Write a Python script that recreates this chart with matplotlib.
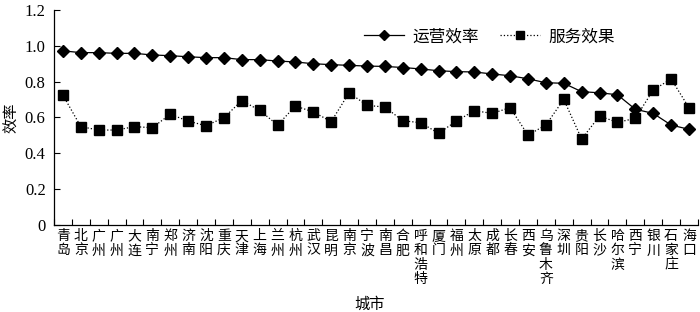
import matplotlib
matplotlib.use("Agg")
import matplotlib.pyplot as plt
import numpy as np

cities = ["青岛", "北京", "广州", "广州", "大连", "南宁", "郑州", "济南", "沈阳", "重庆",
          "天津", "上海", "兰州", "杭州", "武汉", "昆明", "南京", "宁波", "南昌", "合肥",
          "呼和浩特", "厦门", "福州", "太原", "成都", "长春", "西安", "乌鲁木齐", "深圳", "贵阳",
          "长沙", "哈尔滨", "西宁", "银川", "石家庄", "海口"]
operating = [0.972, 0.962, 0.962, 0.958, 0.958, 0.949, 0.945, 0.939, 0.934, 0.934,
             0.923, 0.923, 0.915, 0.910, 0.900, 0.895, 0.891, 0.887, 0.885, 0.879,
             0.871, 0.861, 0.856, 0.854, 0.843, 0.833, 0.816, 0.794, 0.791, 0.744,
             0.738, 0.727, 0.646, 0.623, 0.558, 0.534]
service = [0.725, 0.549, 0.530, 0.530, 0.549, 0.543, 0.618, 0.580, 0.554, 0.599,
           0.694, 0.640, 0.558, 0.664, 0.631, 0.577, 0.738, 0.668, 0.658, 0.582,
           0.571, 0.512, 0.580, 0.638, 0.623, 0.655, 0.502, 0.558, 0.701, 0.480,
           0.608, 0.573, 0.595, 0.753, 0.815, 0.655]
yticks = [0, 0.2, 0.4, 0.6, 0.8, 1.0, 1.2]
ytick_labels = ["0", "0.2", "0.4", "0.6", "0.8", "1.0", "1.2"]

CJK = ["Noto Sans CJK SC", "DejaVu Sans"]
SERIF = ["Liberation Serif", "DejaVu Serif"]

fig = plt.figure(figsize=(7.0, 3.12), dpi=100)
ax = fig.add_axes([0.0771, 0.2788, 0.9199, 0.6892])

x = np.arange(len(cities))
ax.plot(x, operating, color="black", linestyle="-", linewidth=0.9, marker="D",
        markersize=6.5, label="运营效率")
ax.plot(x, service, color="black", linestyle=":", linewidth=0.9, marker="s",
        markersize=6.5, label="服务效果")

ax.set_xlim(-0.5, len(cities) - 0.5)
ax.set_ylim(0, 1.2)
ax.spines["top"].set_visible(False)
ax.spines["right"].set_visible(False)
ax.spines["left"].set_linewidth(0.9)
ax.spines["bottom"].set_linewidth(0.9)

ax.set_yticks(yticks)
ax.set_yticklabels(ytick_labels, fontfamily=SERIF, fontsize=12)
ax.tick_params(axis="y", direction="in", length=4, width=0.8, pad=6)

ax.set_xticks(np.arange(-0.5, len(cities)), labels=[""] * (len(cities) + 1))
ax.tick_params(axis="x", which="major", direction="in", length=4, width=0.8)
ax.set_xticks(x, minor=True)
ax.set_xticklabels(["\n".join(c) for c in cities], minor=True,
                   fontfamily=CJK, fontsize=10, linespacing=1.02, va="top")
ax.tick_params(axis="x", which="minor", length=0, pad=3)

ax.set_xlabel("城市", fontfamily=CJK, fontsize=11, labelpad=2)
ax.xaxis.set_label_coords(0.49, -0.33)
ax.set_ylabel("效率", fontfamily=CJK, fontsize=11, labelpad=3)

leg = ax.legend(loc="upper right", bbox_to_anchor=(0.895, 0.985), ncol=2, frameon=False,
                prop={"family": CJK, "size": 12}, handlelength=2.4, columnspacing=1.3,
                handletextpad=0.5, markerscale=0.85)

fig.savefig("out.png", dpi=100)
